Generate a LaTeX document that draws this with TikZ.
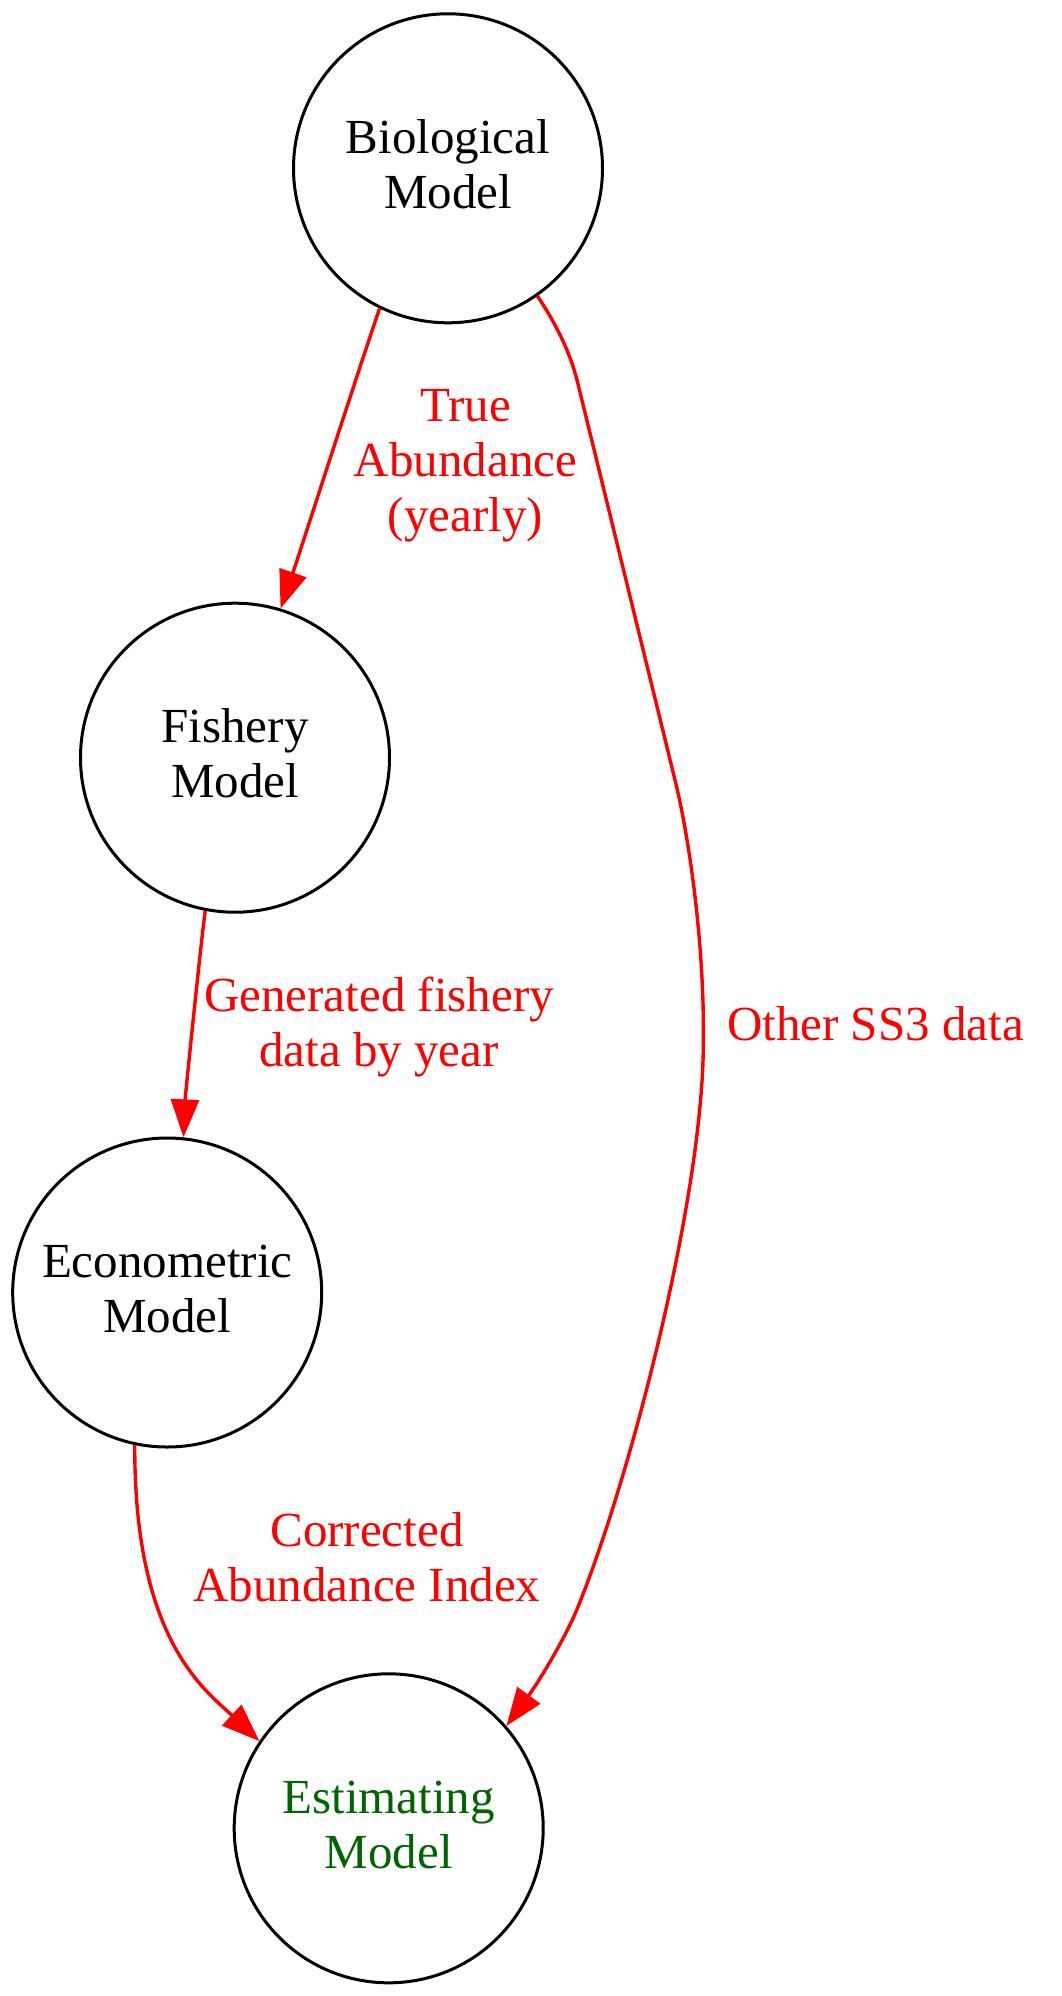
\documentclass[tikz,border=0pt]{standalone}
\usepackage{fontspec}
\setmainfont{Liberation Serif}
\usetikzlibrary{arrows.meta}
\definecolor{estgreen}{RGB}{0,100,0}
\newcommand\twolines[2]{\rule{0pt}{40pt}#1\\#2\rule[-15pt]{0pt}{15pt}}
\newcommand\threelines[3]{\rule{0pt}{40pt}#1\\#2\\#3\rule[-15pt]{0pt}{15pt}}
\newcommand\oneline[1]{\rule{0pt}{40pt}#1\rule[-15pt]{0pt}{15pt}}
\tikzset{
  model/.style={circle, draw=black, line width=3pt, minimum size=309pt, inner sep=0pt,
    align=center, font=\fontsize{49}{55}\selectfont},
  lbl/.style={text=red, align=center, inner sep=0pt, font=\fontsize{49}{55}\selectfont},
  edge/.style={draw=red, line width=3.4pt, -{Triangle[length=38pt,width=28pt]}}
}
\begin{document}
\begin{tikzpicture}[x=1pt,y=-1pt]
\useasboundingbox (0,0) rectangle (1062,1996);
\node[model] (bio) at (448,168.3) {\twolines{Biological}{Model}};
\node[model] (fish) at (235,757.7) {\twolines{Fishery}{Model}};
\node[model] (econ) at (167.2,1292.5) {\twolines{Econometric}{Model}};
\node[model, text=estgreen] (est) at (388.7,1828.3) {\twolines{Estimating}{Model}};

\draw[edge] (bio.244.7) .. controls (365,350) and (297,561) .. (fish.73.8);
\draw[edge] (fish.259.25) .. controls (200,950) and (185,1100) .. (econ.84.8);
\draw[edge] (econ.258.7) .. controls (134,1640) and (205,1690) .. (est.146.2);
\draw[edge] (bio.305.85) .. controls (555,322) and (570,352) .. (577,380)
  -- (675,780) .. controls (690,841) and (705,950) .. (703.3,1047)
  .. controls (702,1200) and (630,1480) .. (576.7,1610)
  .. controls (565,1638) and (540,1680) .. (est.41.9);

\node[lbl] (l1) at (465.5,463.9) {\threelines{True}{Abundance}{(yearly)}};
\node[lbl] (l2) at (379,1026.4) {\twolines{Generated fishery}{data by year}};
\node[lbl] (l3) at (367,1561.7) {\twolines{Corrected}{Abundance Index}};
\node[lbl] (l4) at (875.5,1027.5) {\oneline{Other SS3 data}};
\end{tikzpicture}
\end{document}
